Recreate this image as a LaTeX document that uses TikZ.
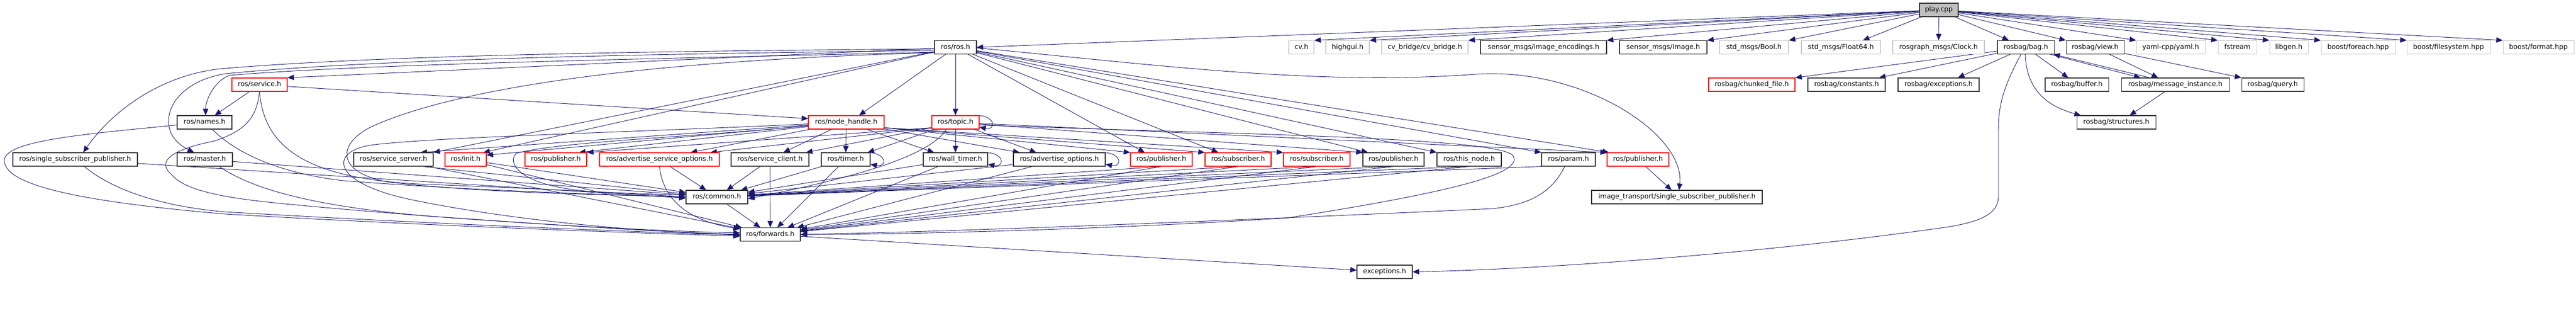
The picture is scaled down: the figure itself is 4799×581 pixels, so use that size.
\documentclass[tikz,border=0pt]{standalone}
\usepackage{fontspec}
\setmainfont{DejaVu Sans}
\usetikzlibrary{arrows.meta}
\pgfdeclarelayer{background}
\pgfdeclarelayer{edges}
\pgfsetlayers{background,edges,main}
\definecolor{mblue}{HTML}{191970}
\definecolor{nodegray}{HTML}{BFBFBF}
\definecolor{lightbd}{HTML}{CCCCCC}
\tikzset{
  nbox/.style={draw=black!80, line width=1.1pt, fill=white, minimum height=25pt, inner sep=0pt,
    text height=9.4pt, text depth=2.6pt, font=\fontsize{12.6pt}{15pt}\selectfont},
  rbox/.style={nbox, draw=red},
  gbox/.style={nbox, draw=lightbd},
  pbox/.style={nbox, fill=nodegray},
  edg/.style={draw=mblue, line width=0.9pt, -{Triangle[length=12pt,width=10pt]}},
}
\newcommand{\mkbox}[6]{\node[#1, minimum width=#2pt] (#3) at (#4,#5) {#6};}
\newcommand{\selfloopx}[1]{\draw[edg] ([xshift=-12pt]#1.north east) .. controls ([xshift=32pt,yshift=2pt]#1.north east) and ([xshift=32pt,yshift=-2pt]#1.south east) .. ([yshift=4pt]#1.south east);}
\begin{document}
\begin{tikzpicture}[x=1pt,y=-1pt]
\begin{pgfonlayer}{background}
\fill[white] (0,0) rectangle (4799,581);
\end{pgfonlayer}
\useasboundingbox (0,0) rectangle (4799,581);
% row 0
\mkbox{pbox}{72}{play}{3612}{18.5}{play.cpp}
% row 1
\mkbox{nbox}{78}{rosh}{1780}{88}{ros/ros.h}
\mkbox{gbox}{47}{cvh}{2424.5}{88}{cv.h}
\mkbox{gbox}{81}{highgui}{2510.5}{88}{highgui.h}
\mkbox{gbox}{161}{cvbridge}{2654.5}{88}{cv\_bridge/cv\_bridge.h}
\mkbox{nbox}{235}{imgenc}{2875.5}{88}{sensor\_msgs/image\_encodings.h}
\mkbox{nbox}{163}{image}{3098.5}{88}{sensor\_msgs/Image.h}
\mkbox{gbox}{129}{bool}{3267.5}{88}{std\_msgs/Bool.h}
\mkbox{gbox}{147}{float}{3429.5}{88}{std\_msgs/Float64.h}
\mkbox{gbox}{171}{clock}{3611.5}{88}{rosgraph\_msgs/Clock.h}
\mkbox{nbox}{106}{bag}{3774}{88}{rosbag/bag.h}
\mkbox{nbox}{108}{view}{3903}{88}{rosbag/view.h}
\mkbox{gbox}{128}{yaml}{4044}{88}{yaml-cpp/yaml.h}
\mkbox{gbox}{72}{fstream}{4168}{88}{fstream}
\mkbox{gbox}{72}{libgen}{4264}{88}{libgen.h}
\mkbox{gbox}{138}{nforeach}{4393}{88}{boost/foreach.hpp}
\mkbox{gbox}{155}{filesystem}{4561.5}{88}{boost/filesystem.hpp}
\mkbox{gbox}{132}{format}{4729}{88}{boost/format.hpp}
% row 2
\mkbox{rbox}{103}{service}{483.5}{157.5}{ros/service.h}
\mkbox{rbox}{161}{chunked}{3263.5}{157.5}{rosbag/chunked\_file.h}
\mkbox{nbox}{144}{constants}{3440}{157.5}{rosbag/constants.h}
\mkbox{nbox}{151}{rbexc}{3611.5}{157.5}{rosbag/exceptions.h}
\mkbox{nbox}{118}{buffer}{3869}{157.5}{rosbag/buffer.h}
\mkbox{nbox}{201}{msginst}{4052.5}{157.5}{rosbag/message\_instance.h}
\mkbox{nbox}{116}{query}{4234}{157.5}{rosbag/query.h}
% row 3
\mkbox{nbox}{102}{names}{381}{227.5}{ros/names.h}
\mkbox{rbox}{141}{nh}{1576.5}{227.5}{ros/node\_handle.h}
\mkbox{rbox}{88}{topic}{1780}{227.5}{ros/topic.h}
\mkbox{nbox}{147}{structs}{3942.5}{227.5}{rosbag/structures.h}
% row 4
\mkbox{nbox}{232}{ssp}{140}{296.5}{ros/single\_subscriber\_publisher.h}
\mkbox{nbox}{103}{master}{381.5}{296.5}{ros/master.h}
\mkbox{nbox}{148}{sserver}{733}{296.5}{ros/service\_server.h}
\mkbox{rbox}{77}{init}{867.5}{296.5}{ros/init.h}
\mkbox{rbox}{115}{pubA}{1035.5}{296.5}{ros/publisher.h}
\mkbox{rbox}{223}{aso}{1228.5}{296.5}{ros/advertise\_service\_options.h}
\mkbox{nbox}{145}{sclient}{1434.5}{296.5}{ros/service\_client.h}
\mkbox{nbox}{91}{timer}{1575.5}{296.5}{ros/timer.h}
\mkbox{nbox}{120}{wtimer}{1780}{296.5}{ros/wall\_timer.h}
\mkbox{nbox}{171}{ao}{1973.5}{296.5}{ros/advertise\_options.h}
\mkbox{rbox}{115}{pubB}{2163.5}{296.5}{ros/publisher.h}
\mkbox{rbox}{123}{subA}{2306.5}{296.5}{ros/subscriber.h}
\mkbox{rbox}{124}{subB}{2453}{296.5}{ros/subscriber.h}
\mkbox{nbox}{114}{pubC}{2596}{296.5}{ros/publisher.h}
\mkbox{nbox}{120}{thisnode}{2737}{296.5}{ros/this\_node.h}
\mkbox{nbox}{100}{param}{2922}{296.5}{ros/param.h}
\mkbox{rbox}{115}{pubD}{3051.5}{296.5}{ros/publisher.h}
% row 5
\mkbox{nbox}{115}{common}{1335.5}{366.5}{ros/common.h}
\mkbox{nbox}{318}{itssp}{3124}{366.5}{image\_transport/single\_subscriber\_publisher.h}
% row 6
\mkbox{nbox}{112}{fwd}{1435}{436}{ros/forwards.h}
% row 7
\mkbox{nbox}{103}{exc}{2579.5}{505.5}{exceptions.h}

\begin{pgfonlayer}{edges}
% play.cpp
\foreach \nn in {cvh,highgui,cvbridge,imgenc,image,bool} {\draw[edg] (play) -- (\nn.north east);}
\draw[edg] (play) -- (rosh.east);
\draw[edg] (play) -- ([xshift=-33pt]float.north east);
\draw[edg] (play) -- (clock);
\draw[edg] (play) -- ([xshift=22pt]bag.north west);
\foreach \nn in {view,yaml,fstream,libgen,nforeach,filesystem,format} {\draw[edg] (play) -- (\nn.north west);}
% rosbag
\draw[edg] (bag) -- (chunked.north east);
\draw[edg] (bag) -- ([xshift=-12pt]constants.north east);
\draw[edg] (bag) -- ([xshift=-40pt]rbexc.north east);
\draw[edg] (bag) -- ([xshift=-16pt]buffer.north);
\draw[edg] ([xshift=-8pt]bag.south east) -- ([xshift=-65pt]msginst.north);
\draw[edg] ([xshift=-48pt]msginst.north) -- ([xshift=-2pt]bag.south east);
\draw[edg] (view) -- ([xshift=-32pt]msginst.north);
\draw[edg] (view) -- (query.north west);
\draw[edg] ([xshift=-1pt]bag.south) .. controls (3775,160) and (3805,195) .. ([xshift=8pt]structs.north west);
\draw[edg] (msginst) -- ([xshift=25pt]structs.north);
\draw[edg] ([xshift=-9pt]bag.south) .. controls (3730,165) and (3723,200) .. (3723,240) -- (3723,365) .. controls (3723,402) and (3680,416) .. (3600,426) .. controls (3300,468) and (2900,500) .. (exc.east);
% ros.h
\draw[edg] (rosh) -- (service.north east);
\draw[edg] ([yshift=-9pt]rosh.west) .. controls (1200,110) and (700,118) .. (428,140) .. controls (400,150) and (383,185) .. ([xshift=2pt]names.north);
\draw[edg] ([yshift=-6pt]rosh.west) .. controls (1200,100) and (700,110) .. (420,137) .. controls (340,150) and (305,200) .. (316,240) .. controls (322,262) and (342,274) .. ([xshift=-20pt]master.north);
\draw[edg] ([yshift=-3pt]rosh.west) .. controls (1200,95) and (700,103) .. (410,128) .. controls (300,140) and (210,205) .. ([xshift=15pt]ssp.north);
\draw[edg] (rosh) -- ([xshift=24pt]nh.north);
\draw[edg] (rosh) -- (topic);
\draw[edg] (rosh) -- ([xshift=-6pt]init.north east);
\draw[edg] (rosh) -- (sserver.north east);
\draw[edg] ([yshift=-10pt]rosh.west) .. controls (1100,115) and (820,180) .. (700,232) .. controls (630,262) and (620,318) .. (720,338) .. controls (900,360) and (1150,362) .. (common.west);
\draw[edg] (rosh) -- ([xshift=27pt]pubB.north west);
\draw[edg] (rosh) -- ([xshift=25pt]subA.north west);
\draw[edg] (rosh) -- ([xshift=10pt]pubC.north west);
\draw[edg] (rosh) -- (thisnode.north west);
\draw[edg] (rosh) -- (param.north west);
\draw[edg] (rosh) -- ([xshift=4pt]pubD.north west);
\draw[edg] ([yshift=-1pt]rosh.east) .. controls (2150,120) and (2450,160) .. (2750,138) .. controls (2950,125) and (3140,250) .. ([xshift=4pt]itssp.north);
% service.h
\draw[edg] (service) -- (names);
\draw[edg] (service) -- ([yshift=7pt]nh.west);
\draw[edg] (service.south) .. controls (492,280) and (580,335) .. (800,343) .. controls (1000,350) and (1150,360) .. ([yshift=4pt]common.west);
\draw[edg] (service.south) .. controls (478,225) and (450,245) .. (400,262) .. controls (320,278) and (290,300) .. (320,325) .. controls (345,355) and (420,368) .. (520,378) .. controls (800,405) and (1150,428) .. ([yshift=3pt]fwd.west);
% names.h
\draw[edg] ([xshift=-37pt]names.south east) .. controls (440,285) and (520,322) .. (640,336) .. controls (900,356) and (1150,362) .. (common.west);
\draw[edg] ([yshift=-5pt]names.west) .. controls (150,250) and (5,262) .. (8,300) .. controls (12,345) and (150,375) .. (420,398) .. controls (800,420) and (1150,432) .. ([yshift=-3pt]fwd.west);
% master.h, ssp
\draw[edg] (master) -- (common);
\draw[edg] ([xshift=27pt]master.south) .. controls (460,345) and (560,382) .. (800,402) .. controls (1000,416) and (1200,430) .. (fwd.west);
\draw[edg] (ssp) -- ([yshift=-2pt]common.west);
\draw[edg] ([xshift=17pt]ssp.south) .. controls (200,345) and (280,382) .. (420,394) .. controls (800,416) and (1150,430) .. ([yshift=-1pt]fwd.west);
% row 4 left part
\draw[edg] ([xshift=-20pt]sserver.south east) -- (common);
\draw[edg] ([xshift=-10pt]sserver.south east) -- (fwd);
\draw[edg] (init) -- (common);
\draw[edg] (init) -- (fwd);
\draw[edg] (aso) -- (common);
\draw[edg] (aso.south) .. controls (1235,370) and (1280,410) .. ([yshift=-3pt]fwd.north west);
\draw[edg] (sclient) -- (common);
\draw[edg] (sclient) -- (fwd);
\draw[edg] (timer) -- (common);
\draw[edg] (timer) -- (fwd);
\selfloopx{timer}
\draw[edg] (wtimer) -- (common);
\draw[edg] (wtimer) -- (fwd);
\selfloopx{wtimer}
\draw[edg] (ao) -- (common);
\draw[edg] (ao) -- (fwd);
\selfloopx{ao}
% row 4 right part
\foreach \nn in {pubB,subA,subB,pubC,thisnode} {\draw[edg] (\nn.south) -- (common); \draw[edg] (\nn.south) -- (fwd);}
\draw[edg] (param.south west) -- (common);
\draw[edg] ([xshift=-7pt]param.south) .. controls (2895,350) and (2860,380) .. (2780,388) .. controls (2300,410) and (1800,430) .. (fwd.east);
\draw[edg] (pubD) -- ([xshift=-10pt]itssp.north);
% node_handle.h
\draw[edg] (nh) -- ([xshift=-24pt]sserver.north east);
\draw[edg] (nh) -- ([yshift=-5pt]init.north east);
\draw[edg] (nh) -- ([xshift=-15pt]pubA.north east);
\draw[edg] (nh) -- ([xshift=58pt]aso.north);
\draw[edg] (nh) -- ([xshift=25pt]sclient.north);
\draw[edg] (nh) -- (timer);
\draw[edg] (nh) -- ([xshift=-40pt]wtimer.north);
\draw[edg] (nh) -- ([xshift=12pt]ao.north west);
\draw[edg] ([yshift=3pt]nh.south east) -- (pubB.north west);
\draw[edg] ([yshift=3pt]nh.south east) -- (subA.north west);
\draw[edg] ([yshift=3pt]nh.south east) -- (subB.north west);
\draw[edg] ([yshift=-6pt]nh.west) .. controls (1300,255) and (1050,262) .. (962,285) .. controls (945,300) and (960,345) .. (1100,356) .. controls (1180,361) and (1230,363) .. (common.west);
\draw[edg] ([yshift=-3pt]nh.west) .. controls (1200,245) and (800,255) .. (690,270) .. controls (615,282) and (615,338) .. (760,370) .. controls (950,410) and (1200,432) .. (fwd.west);
% topic.h
\selfloopx{topic}
\draw[edg] (topic) -- (wtimer);
\draw[edg] (topic) -- ([xshift=-5pt]timer.north east);
\draw[edg] (topic) -- ([xshift=-43pt]ao.north);
\draw[edg] ([yshift=3pt]topic.south west) -- ([xshift=95pt]aso.north);
\draw[edg] ([yshift=3pt]topic.south west) -- ([xshift=-6pt]sclient.north east);
\draw[edg] ([yshift=3pt]topic.south west) -- (pubA.north east);
\draw[edg] (topic) -- (pubC.north west);
\draw[edg] (topic) -- (pubD.north west);
\draw[edg] ([xshift=-17pt]topic.south) .. controls (1735,285) and (1620,325) .. ([yshift=-3pt]common.east);
\draw[edg] ([yshift=-5pt]topic.east) .. controls (2300,250) and (2815,255) .. (2820,292) .. controls (2832,322) and (2720,355) .. (2400,405) .. controls (2100,425) and (1700,436) .. (fwd.east);
% common, forwards
\draw[edg] (common) -- (fwd);
\draw[edg] (fwd) -- (exc);
\end{pgfonlayer}
\end{tikzpicture}
\end{document}
